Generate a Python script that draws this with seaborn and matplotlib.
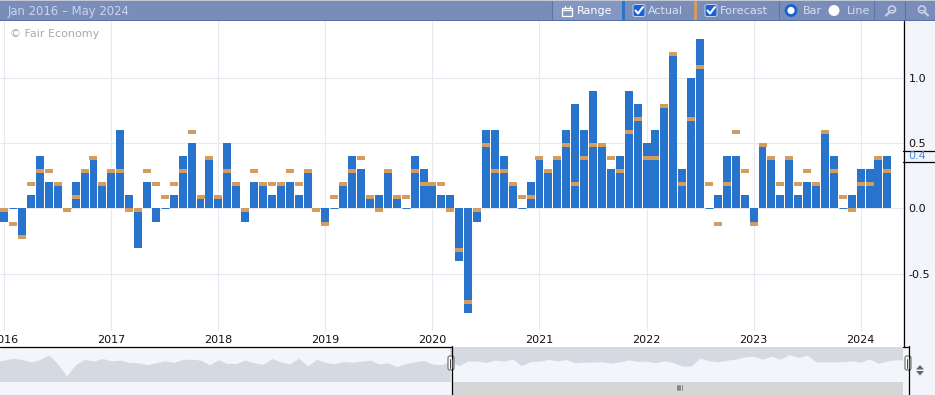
import numpy as np
import pandas as pd
import matplotlib.pyplot as plt
import seaborn as sns
from matplotlib.path import Path
from matplotlib.patches import Rectangle, FancyBboxPatch, Circle

actual = [-0.1, 0.0, -0.2, 0.1, 0.4, 0.2, 0.2, 0.0, 0.2, 0.3, 0.4, 0.2,
          0.3, 0.6, 0.1, -0.3, 0.2, -0.1, 0.0, 0.1, 0.4, 0.5, 0.1, 0.4,
          0.1, 0.5, 0.2, -0.1, 0.2, 0.2, 0.1, 0.2, 0.2, 0.1, 0.3, 0.0,
          -0.1, 0.0, 0.2, 0.4, 0.3, 0.1, 0.1, 0.3, 0.1, 0.0, 0.4, 0.3,
          0.2, 0.1, 0.1, -0.4, -0.8, -0.1, 0.6, 0.6, 0.4, 0.2, 0.0, 0.2,
          0.4, 0.3, 0.4, 0.6, 0.8, 0.6, 0.9, 0.5, 0.3, 0.4, 0.9, 0.8,
          0.5, 0.6, 0.8, 1.2, 0.3, 1.0, 1.3, 0.0, 0.1, 0.4, 0.4, 0.1,
          -0.1, 0.5, 0.4, 0.1, 0.4, 0.1, 0.2, 0.2, 0.6, 0.4, 0.0, 0.1,
          0.3, 0.3, 0.4, 0.4]
forecast = [0.0, -0.1, -0.2, 0.2, 0.3, 0.3, 0.2, 0.0, 0.1, 0.3, 0.4, 0.2,
            0.3, 0.3, 0.0, 0.0, 0.3, 0.2, 0.1, 0.2, 0.3, 0.6, 0.1, 0.4,
            0.1, 0.3, 0.2, 0.0, 0.3, 0.2, 0.2, 0.2, 0.3, 0.2, 0.3, 0.0,
            -0.1, 0.1, 0.2, 0.3, 0.4, 0.1, 0.0, 0.3, 0.1, 0.1, 0.3, 0.2,
            0.2, 0.2, 0.0, -0.3, -0.7, 0.0, 0.5, 0.3, 0.3, 0.2, 0.1, 0.1,
            0.4, 0.3, 0.4, 0.5, 0.2, 0.4, 0.5, 0.5, 0.4, 0.3, 0.6, 0.7,
            0.4, 0.4, 0.8, 1.2, 0.2, 0.7, 1.1, 0.2, -0.1, 0.2, 0.6, 0.3,
            -0.1, 0.5, 0.4, 0.2, 0.4, 0.2, 0.3, 0.2, 0.6, 0.3, 0.1, 0.0,
            0.2, 0.2, 0.4, 0.3]
year_labels = ['2016', '2017', '2018', '2019', '2020', '2021', '2022', '2023', '2024']
y_ticks = [-0.5, 0.0, 0.5, 1.0]

# overview strip, height of the area (starts one month before the first bar)
overview = [60, 65, 71, 67, 59, 67, 81, 53, 17, 52, 67, 62, 70, 63, 65, 58, 57, 51, 57, 63, 58,
            67, 68, 65, 51, 66, 55, 55, 65, 57, 52, 70, 60, 53, 71, 47, 67, 58, 54, 61, 59, 62,
            65, 53, 57, 45, 55, 60, 64, 53, 51, 60, 48, 63, 62, 58, 65, 62, 68, 48, 61, 62, 67,
            63, 67, 57, 59, 59, 60, 56, 60, 66, 61, 62, 57, 63, 57, 47, 47, 71, 63, 60, 65, 68,
            75, 77, 68, 77, 68, 82, 73, 80, 60, 60, 60, 60, 63, 59, 69, 55, 63, 66, 66]

BLUE = '#2874cd'
ORANGE = '#d49c5e'
GRID = '#e8e8f2'
PANEL = '#f3f5fa'
SHADE = '#d5d9e2'
BAR = '#7a8cb8'
W, H = 935, 395

sns.set_theme(style='white')
plt.rcParams['font.family'] = ['DejaVu Sans']

df = pd.DataFrame({'month': np.arange(len(actual)), 'actual': actual, 'forecast': forecast})

fig = plt.figure(figsize=(W / 100, H / 100), dpi=100, facecolor=PANEL)
# white behind the year labels too, the plot area stops above them
fig.add_artist(Rectangle((0, 1 - 347 / H), 903 / W, 326 / H, transform=fig.transFigure,
                         color='white', lw=0, zorder=0))


def px_axes(x0, y0, x1, y1, **kw):
    return fig.add_axes([x0 / W, 1 - y1 / H, (x1 - x0) / W, (y1 - y0) / H], **kw)


# main chart
ax = px_axes(0, 21, 903, 331, zorder=2)
ax.set_facecolor('white')
sns.barplot(data=df, x='month', y='actual', color=BLUE, saturation=1, native_scale=True,
            width=0.89, linewidth=0, errorbar=None, ax=ax, zorder=3)
for bar in ax.patches:
    if bar.get_height() == 0:
        bar.set_edgecolor(BLUE)
        bar.set_linewidth(0.7)

# forecast tick hangs just under its value
tick = Path([(-4, -4), (4, -4), (4, 0), (-4, 0), (-4, -4)], closed=True)
sns.scatterplot(data=df, x='month', y='forecast', marker=tick, s=33, color=ORANGE,
                linewidth=0, ax=ax, zorder=4, legend=False)

ax.set_xlim(-0.48, 100.75)
ax.set_ylim(-0.941, 1.44)
ax.set_xticks(np.arange(len(year_labels)) * 12, year_labels)
ax.set_yticks(y_ticks, ['%.1f' % v for v in y_ticks])
ax.yaxis.tick_right()
ax.tick_params(axis='x', length=0, pad=3, labelsize=8, labelcolor='#111111')
ax.tick_params(axis='y', length=0, pad=4, labelsize=8, labelcolor='#111111')
ax.grid(True, color=GRID, lw=0.8)
ax.set_axisbelow(True)
ax.set_xlabel('')
ax.set_ylabel('')
sns.despine(ax=ax, left=True, bottom=True, right=True, top=True)

# overview strip
ov = px_axes(0, 347, 903, 381.5, zorder=1)
ov_months = np.arange(-1, len(overview) - 1)
ov_vals = np.array(overview)
ov.fill_between(ov_months, ov_vals, color=SHADE, lw=0, where=ov_months <= 50)
ov.axvspan(50, 101, color=SHADE, lw=0)
ov.fill_between(ov_months, ov_vals, color=PANEL, lw=0, where=ov_months >= 50)
ov.set_xlim(-0.48, 100.75)
ov.set_ylim(0, 105)
ov.set_facecolor(PANEL)
ov.set_xticks([])
ov.set_yticks([])
sns.despine(ax=ov, left=True, bottom=True)

# toolbar, scrollbar and other chrome, in pixel coordinates
ch = px_axes(0, 0, W, H, zorder=5)
ch.set_xlim(0, W)
ch.set_ylim(H, 0)
ch.axis('off')
ch.patch.set_alpha(0)

ch.add_patch(Rectangle((0, 0), W, 21, color=BAR, lw=0))
ch.add_patch(Rectangle((0, 0), W, 1, color='#c4c9d6', lw=0))
ch.add_patch(Rectangle((0, 20), W, 1, color='#5470a8', lw=0))
ch.add_patch(Rectangle((552, 1), 70, 19, color='#8497c2', lw=0))
for x in [552, 779, 874, 905]:
    ch.plot([x, x], [1, 20], color='#5f75a8', lw=0.8)
ch.text(8, 11, 'Jan 2016 – May 2024', color='#c9d5ef', fontsize=8.4, va='center')
ch.text(10, 34, '© Fair Economy', color='#aaaaaa', fontsize=8, va='center')

# range button
ch.add_patch(Rectangle((562, 7.5), 10, 8, fc='none', ec='white', lw=0.9))
ch.plot([562, 572], [10, 10], color='white', lw=1)
ch.plot([564.5, 564.5], [6, 8], color='white', lw=0.9)
ch.plot([569.5, 569.5], [6, 8], color='white', lw=0.9)
ch.text(577, 11, 'Range', color='white', fontsize=8, va='center')

# series toggles
ch.add_patch(Rectangle((622, 1), 3, 19, color=BLUE, lw=0))
ch.add_patch(Rectangle((694, 1), 3, 19, color=ORANGE, lw=0))
for x0 in [632, 704]:
    ch.add_patch(FancyBboxPatch((x0 + 1, 4.5), 12, 12, boxstyle='round,pad=0,rounding_size=2',
                                fc='#1a62d2', ec='#c5d2ea', lw=0.7))
    ch.plot([x0 + 3.5, x0 + 6, x0 + 11], [10.5, 13.5, 7], color='white', lw=1.5)
ch.text(648, 11, 'Actual', color='#d8e0f0', fontsize=8, va='center')
ch.text(720, 11, 'Forecast', color='#d8e0f0', fontsize=8.2, va='center')

# bar / line radios
ch.add_patch(Circle((791, 10.5), 5, fc='white', ec='#1a62d2', lw=2))
ch.add_patch(Circle((834, 10.5), 5.5, fc='white', lw=0))
ch.text(803, 11, 'Bar', color='#d8e0f0', fontsize=8, va='center')
ch.text(847, 11, 'Line', color='#d8e0f0', fontsize=8, va='center')

# zoom icons
for cx, cy in [(892, 9.5), (922, 9.5)]:
    ch.add_patch(Circle((cx, cy), 3.5, fc='none', ec='#c5d0e6', lw=1.2))
    dx = -1 if cx < 900 else 1
    ch.plot([cx + dx * 2.5, cx + dx * 6], [cy + 2.5, cy + 6], color='#c5d0e6', lw=1.6)
    ch.plot([cx - 2, cx + 2], [cy, cy], color='#c5d0e6', lw=0.8)

# axis frame
ch.plot([903.5, 903.5], [21, 346], color='black', lw=0.9)
ch.plot([0, 451.5], [346.5, 346.5], color='black', lw=0.9)
ch.plot([903, 908.5], [346.5, 346.5], color='black', lw=0.9)
ch.plot([451.5, 451.5], [346, H], color='black', lw=0.9)
ch.plot([908.5, 908.5], [346, H], color='black', lw=0.9)

# current value box on the y axis
ch.plot([903, W], [150.5, 150.5], color='black', lw=0.9)
ch.plot([903, W], [161.5, 161.5], color='black', lw=0.9)
ch.text(908, 156, '0.4', color='#4a8bdc', fontsize=8, va='center')

# scrollbar
ch.add_patch(Rectangle((452, 381.5), 451, 13.5, color='#d6d6d6', lw=0))
for x in np.arange(676.5, 682, 1.3):
    ch.plot([x, x], [385, 390], color='#666666', lw=0.5)

# range handles
for x in [451, 908]:
    ch.add_patch(FancyBboxPatch((x - 3, 356), 6, 14, boxstyle='round,pad=0,rounding_size=2',
                                fc='white', ec='#777777', lw=0.9))
    ch.plot([x - 1, x - 1], [358.5, 367.5], color='#444444', lw=0.7)
    ch.plot([x + 1, x + 1], [358.5, 367.5], color='#444444', lw=0.7)

# resize arrows
ch.fill([916, 924, 920], [369.5, 369.5, 365], color='#666666', lw=0)
ch.fill([916, 924, 920], [371, 371, 375.5], color='#666666', lw=0)

fig.savefig('out.png', dpi=100, facecolor=PANEL)
